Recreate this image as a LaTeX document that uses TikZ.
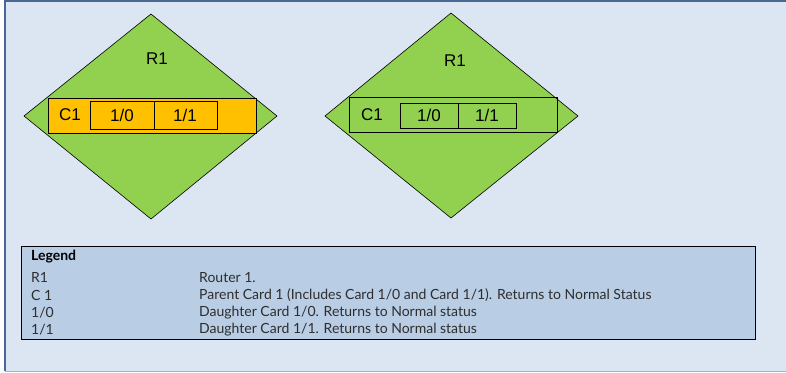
\documentclass[tikz,border=0pt]{standalone}
\usepackage{fontspec}
\setmainfont{Liberation Sans}
\newfontfamily\legendfont{Lato}
\usetikzlibrary{positioning}
\definecolor{paneblue}{HTML}{DCE6F2}
\definecolor{paneedge}{HTML}{4A6895}
\definecolor{routergreen}{HTML}{92D050}
\definecolor{cardorange}{HTML}{FFC000}
\definecolor{legendblue}{HTML}{B9CDE5}
\definecolor{legendtext}{HTML}{2E2E2E}
\tikzset{
  router/.style={draw=black, fill=routergreen, line width=.6pt},
  card/.style={draw=black, line width=.8pt},
  cardtext/.style={font=\fontsize{17}{19}\selectfont, inner sep=0pt},
  legendrow/.style={font=\legendfont\fontsize{14}{15}\selectfont, text=legendtext, anchor=west, inner sep=0pt}
}
\begin{document}
\begin{tikzpicture}[x=1pt,y=-1pt]
\useasboundingbox (0,0) rectangle (786,372);
\fill[paneblue] (5,1) rectangle (790,371); % pane
\draw[paneedge, line width=1.4pt] (5,371) -- (5,1) -- (790,1);
\draw[paneedge!50, line width=1pt] (5,371) -- (790,371);

% left router, card highlighted
\draw[router] (151,14) -- (277,116) -- (151,219) -- (24,116) -- cycle;
\node[cardtext] (ra) at (157,59) {R1};
\draw[card, fill=cardorange] (48,98) rectangle (256,133);
\draw[card] (90,101) rectangle (154,129);
\draw[card] (154,101) rectangle (217,129);
\node[cardtext] (ca) at (70,115) {C1};
\node[cardtext] (dza) at (122,115) {1/0};
\node[cardtext] (doa) at (185,115) {1/1};

% right router, normal status
\draw[router] (451,13) -- (578,116) -- (451,218) -- (325,116) -- cycle;
\node[cardtext] (rb) at (455,61) {R1};
\draw[card] (349,97) rectangle (557,132);
\draw[card] (400,103) rectangle (458,128);
\draw[card] (458,103) rectangle (516,128);
\node[cardtext] (cb) at (372,115) {C1};
\node[cardtext] (dzb) at (429,115) {1/0};
\node[cardtext] (dob) at (487,115) {1/1};

% legend
\draw[fill=legendblue, line width=.8pt] (21,246) rectangle (755,339);
\node[legendrow, text=black, font=\legendfont\bfseries\fontsize{14}{15}\selectfont] (lg) at (31,257) {Legend};
\node[legendrow] (lka) at (31,277.5) {R1};
\node[legendrow] (lkb) at (31,295) {C 1};
\node[legendrow] (lkc) at (31,312.5) {1/0};
\node[legendrow] (lkd) at (31,330) {1/1};
\node[legendrow] (lva) at (199,277.5) {Router 1.};
\node[legendrow] (lvb) at (199,295) {Parent Card 1 (Includes Card 1/0 and Card 1/1). Returns to Normal Status};
\node[legendrow] (lvc) at (199,312.5) {Daughter Card 1/0. Returns to Normal status};
\node[legendrow] (lvd) at (199,330) {Daughter Card 1/1. Returns to Normal status};
\end{tikzpicture}
\end{document}
